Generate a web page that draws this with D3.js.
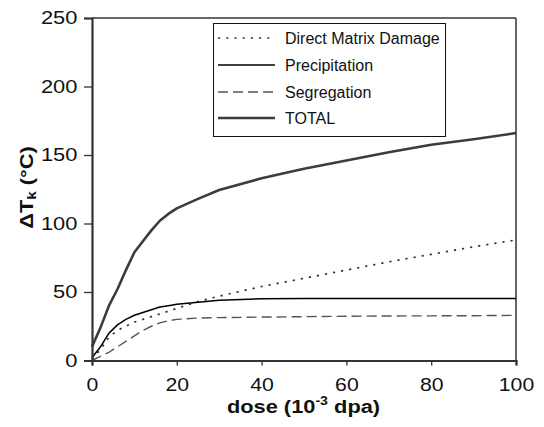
<!DOCTYPE html>
<html>
<head>
<meta charset="utf-8">
<script src="https://cdn.jsdelivr.net/npm/d3@7/dist/d3.min.js"></script>
<style>
  html, body { margin: 0; padding: 0; background: #fff; }
  svg { display: block; font-family: "Liberation Sans", Arial, sans-serif; }
</style>
</head>
<body>
<svg id="chart" width="544" height="427"></svg>
<script>
// Dose points (10^-3 dpa)
const dose = [0, 2, 4, 6, 8, 10, 12, 14, 16, 18, 20, 25, 30, 40, 50, 60, 70, 80, 90, 100];

// Embrittlement contributions, ΔTk (°C)
const directMatrix  = [1, 8, 17, 22, 25, 28, 30, 32, 34, 36, 38, 43, 47, 54, 60, 66, 72, 77.5, 83, 88];
const precipitation = [2, 10, 20, 26, 30, 33, 35, 37, 39, 40, 41, 42.5, 44, 45, 45.3, 45.3, 45.3, 45.3, 45.3, 45.3];
const segregation   = [0, 3, 6, 10, 14, 18, 22, 25, 27.5, 29, 30, 31, 31.3, 31.7, 32, 32.3, 32.5, 32.6, 32.7, 33];
const total         = [10, 24, 40, 52, 66, 79, 87, 95, 102, 107, 111, 118, 124.5, 133, 140, 146, 152, 157.5, 161.5, 166];

const xTicks = [0, 20, 40, 60, 80, 100];
const yTicks = [0, 50, 100, 150, 200, 250];

const seriesNames = ["Direct Matrix Damage", "Precipitation", "Segregation", "TOTAL"];
const seriesValues = [directMatrix, precipitation, segregation, total];

const styles = [
  { stroke: "#333", width: 1.7, dash: "2.2,6" },
  { stroke: "#000", width: 1.5, dash: null },
  { stroke: "#555", width: 1.4, dash: "10,5" },
  { stroke: "#3c3c3c", width: 2.6, dash: null }
];

// Axis lettering is set a little wide
const stretch = 1.18;

const svg = d3.select("#chart");
const plotLeft = 92, plotRight = 516, plotTop = 18, plotBottom = 360.5;

const x = d3.scaleLinear().domain([0, 100]).range([plotLeft, plotRight]);
const y = d3.scaleLinear().domain([0, 250]).range([plotBottom, plotTop]);

// Plot frame (top and right edges)
svg.append("line").attr("x1", plotLeft).attr("x2", plotRight).attr("y1", plotTop).attr("y2", plotTop)
  .attr("stroke", "#333").attr("stroke-width", 1.3);
svg.append("line").attr("x1", plotRight).attr("x2", plotRight).attr("y1", plotTop).attr("y2", plotBottom)
  .attr("stroke", "#555").attr("stroke-width", 1.8);

// Curves
const line = d3.line().x((d, i) => x(dose[i])).y(d => y(d));
seriesValues.forEach((vals, k) => {
  const s = styles[k];
  svg.append("path")
    .datum(vals)
    .attr("d", line)
    .attr("fill", "none")
    .attr("stroke", s.stroke)
    .attr("stroke-width", s.width)
    .attr("stroke-dasharray", s.dash)
    .attr("stroke-linejoin", "round");
});

// Axes
const xAxis = svg.append("g").attr("transform", `translate(0,${plotBottom})`)
  .call(d3.axisBottom(x).tickValues(xTicks).tickSize(5).tickPadding(13.2).tickFormat(d3.format("d")));
const yAxis = svg.append("g").attr("transform", `translate(${plotLeft},0)`)
  .call(d3.axisLeft(y).tickValues(yTicks).tickSize(8).tickFormat(d3.format("d")));

[xAxis, yAxis].forEach(g => {
  g.select(".domain").attr("stroke", "#333").attr("stroke-width", 2.2);
  g.selectAll(".tick line").attr("stroke", "#333").attr("stroke-width", 1.3);
  g.selectAll(".tick text").attr("fill", "#111")
    .attr("font-family", "'Liberation Sans', Arial, sans-serif")
    .attr("transform", `scale(${stretch},1)`);
});
xAxis.selectAll(".tick text").attr("x", 0).attr("font-size", 18);
yAxis.selectAll(".tick text").attr("x", -14.7 / stretch).attr("font-size", 18.5);

// Axis titles
const xt = svg.append("text")
  .attr("transform", `translate(303.5,412.5) scale(${stretch},1)`)
  .attr("text-anchor", "middle")
  .attr("font-size", 18.5).attr("font-weight", "bold").attr("fill", "#111");
xt.append("tspan").text("dose (10");
xt.append("tspan").text("-3").attr("font-size", 12).attr("dy", -7.5);
xt.append("tspan").text(" dpa)").attr("dy", 7.5);

const yt = svg.append("text")
  .attr("transform", `translate(33,187.5) rotate(-90) scale(${stretch},1)`)
  .attr("text-anchor", "middle")
  .attr("font-size", 18.5).attr("font-weight", "bold").attr("fill", "#111");
yt.append("tspan").text("ΔT");
yt.append("tspan").text("k").attr("font-size", 13).attr("dy", 3);
yt.append("tspan").text(" (°C)").attr("dy", -3);

// Legend
const lg = svg.append("g");
lg.append("rect").attr("x", 213.5).attr("y", 23.5).attr("width", 232).attr("height", 113)
  .attr("fill", "#fff").attr("stroke", "#111").attr("stroke-width", 1);
const legendRowY = [38, 65, 92, 118];
seriesNames.forEach((name, k) => {
  const s = styles[k];
  const yy = legendRowY[k];
  lg.append("line").attr("x1", 218).attr("x2", 275).attr("y1", yy).attr("y2", yy)
    .attr("stroke", s.stroke).attr("stroke-width", s.width).attr("stroke-dasharray", s.dash);
  lg.append("text").attr("x", 285).attr("y", yy).attr("dy", "0.36em")
    .attr("font-size", 16).attr("fill", "#111").text(name);
});
</script>
</body>
</html>
